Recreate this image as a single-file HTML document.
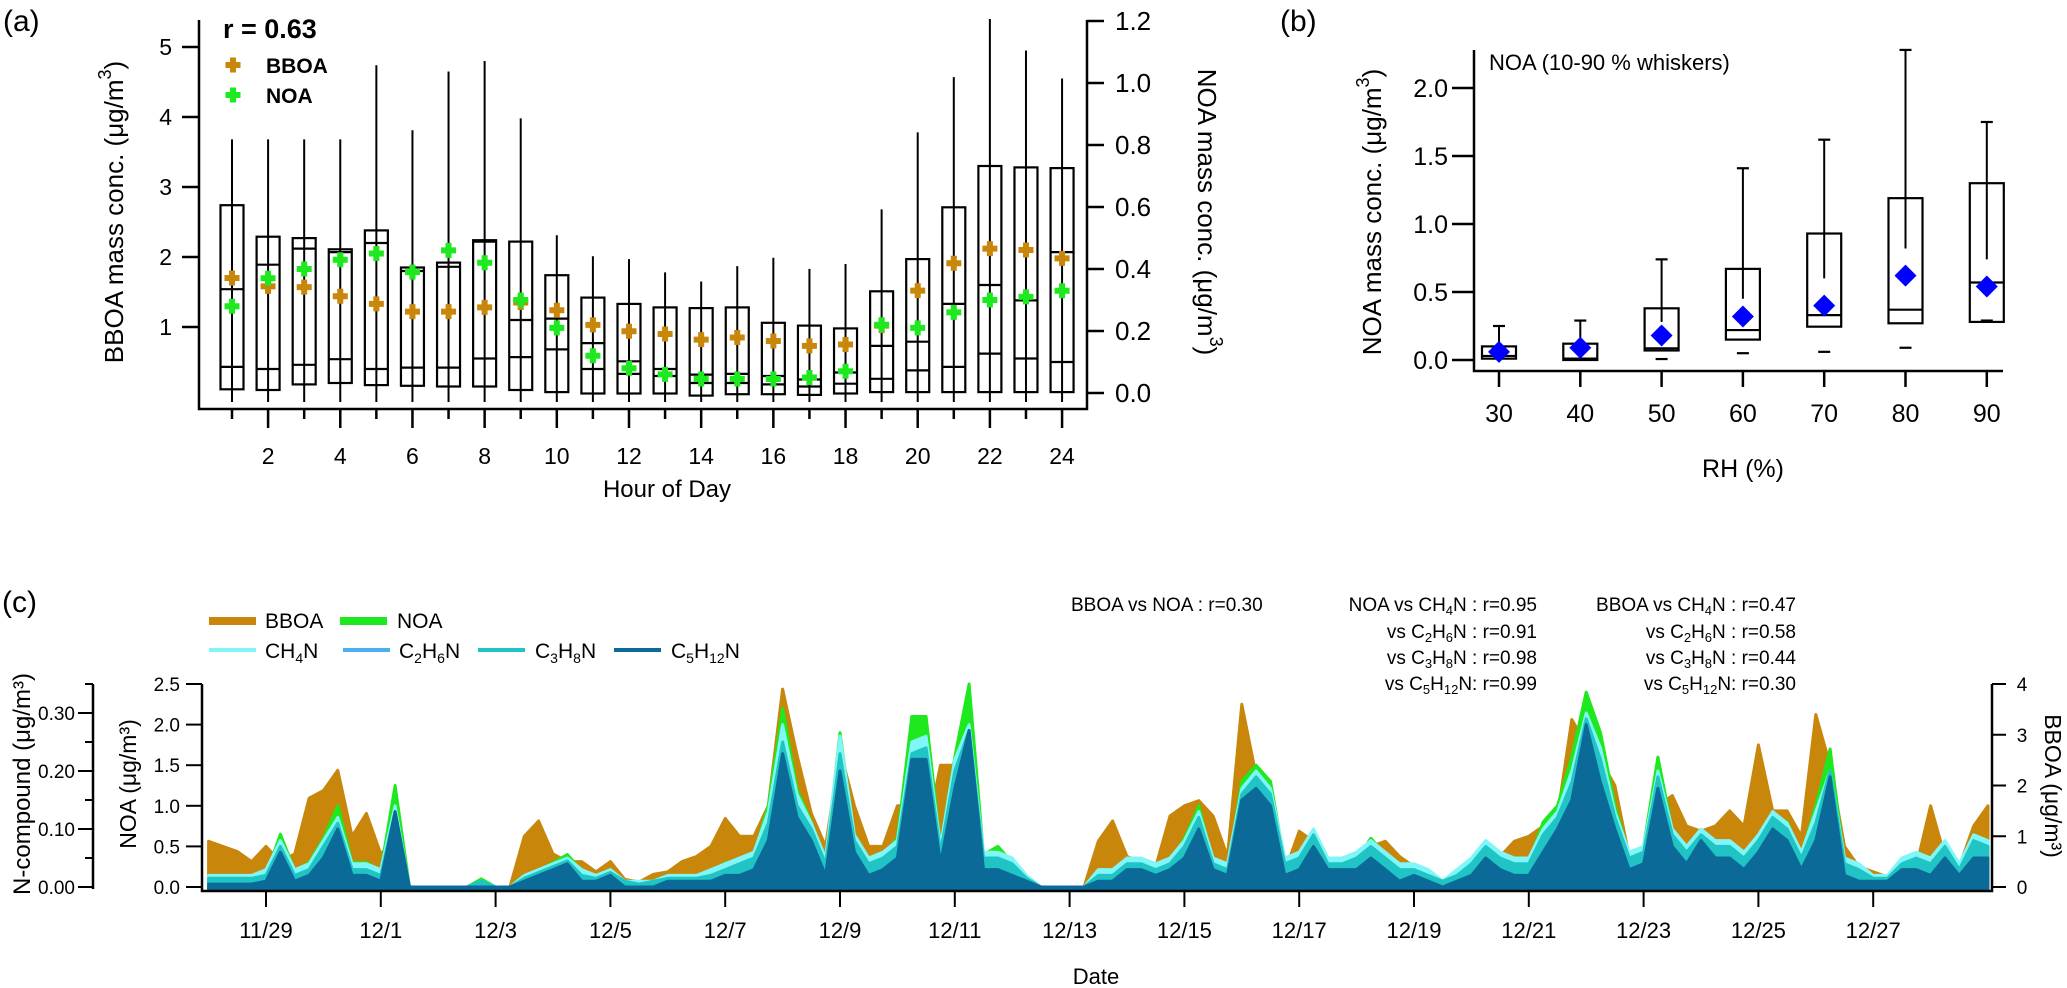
<!DOCTYPE html>
<html><head><meta charset="utf-8"><style>
html,body{margin:0;padding:0;background:#fff;}
svg{display:block;font-family:"Liberation Sans",Arial,sans-serif;}
.n{font-family:"Liberation Sans Narrow","Liberation Sans",sans-serif;}
</style></head><body>
<svg id="fig" width="2067" height="988" viewBox="0 0 2067 988" xmlns="http://www.w3.org/2000/svg">
<g id="pa"></g>
<g id="pb"></g>
<g id="pc"></g>
</svg>
<script>
// ---------- Panel (a) data ----------
const aHours=[1,2,3,4,5,6,7,8,9,10,11,12,13,14,15,16,17,18,19,20,21,22,23,24];
const aWhiskerTop=[3.68,3.68,3.68,3.68,4.74,3.81,4.65,4.80,3.98,2.31,2.01,1.97,1.78,1.65,1.87,1.99,1.83,1.90,2.68,3.78,4.57,5.40,4.95,4.55];
const aBoxTop=[2.74,2.29,2.27,2.11,2.38,1.85,1.92,2.24,2.22,1.74,1.42,1.33,1.28,1.27,1.28,1.06,1.02,0.98,1.51,1.97,2.71,3.30,3.28,3.27];
const aLine1=[1.54,1.89,2.12,2.07,2.20,1.80,1.86,2.22,1.10,1.12,0.77,0.51,0.40,0.32,0.33,0.30,0.25,0.35,0.73,0.79,1.33,1.60,1.38,2.07];
const aLine2=[0.43,0.40,0.46,0.54,0.40,0.42,0.42,0.55,0.57,0.68,0.40,0.33,0.30,0.20,0.20,0.18,0.15,0.19,0.26,0.38,0.43,0.62,0.55,0.50];
const aBoxBottom=[0.11,0.10,0.18,0.20,0.17,0.16,0.15,0.15,0.10,0.07,0.05,0.05,0.05,0.02,0.04,0.04,0.03,0.05,0.07,0.07,0.07,0.07,0.07,0.07];
const aBBOA=[1.70,1.58,1.57,1.44,1.33,1.22,1.22,1.28,1.35,1.24,1.03,0.94,0.90,0.82,0.85,0.80,0.73,0.75,1.02,1.52,1.91,2.12,2.10,1.98];
const aNOA=[0.28,0.37,0.40,0.43,0.45,0.39,0.46,0.42,0.30,0.21,0.12,0.08,0.06,0.045,0.045,0.045,0.05,0.07,0.22,0.21,0.26,0.30,0.31,0.33];
const aLeftTicks=[1,2,3,4,5];
const aRightTicks=[0.0,0.2,0.4,0.6,0.8,1.0,1.2];
// ---------- Panel (b) data ----------
const bRH=[30,40,50,60,70,80,90];
const bWhiskerTop=[0.25,0.29,0.74,1.41,1.62,2.28,1.75];
const bWhiskerStart=[0.10,0.12,0.28,0.45,0.60,0.82,0.74];
const bBoxTop=[0.10,0.12,0.38,0.67,0.93,1.19,1.30];
const bMedian=[0.03,0.01,0.086,0.22,0.33,0.37,0.57];
const bBoxBottom=[0.01,0.00,0.07,0.15,0.245,0.27,0.28];
const bLow=[null,null,0.007,0.05,0.06,0.09,0.29];
const bMean=[0.06,0.09,0.18,0.32,0.40,0.62,0.54];
const bTicks=[0.0,0.5,1.0,1.5,2.0];
// ---------- Panel (c) data (6-hourly from 11/28 00:00) ----------
const cDateLabels=["11/29","12/1","12/3","12/5","12/7","12/9","12/11","12/13","12/15","12/17","12/19","12/21","12/23","12/25","12/27"];
const cDateDays=[1,3,5,7,9,11,13,15,17,19,21,23,25,27,29];
const cBBOA=[0.9,0.8,0.7,0.5, 0.8,0.5,0.65,1.75, 1.9,2.3,1.0,1.45, 0.65,0.95,0,0, 0,0,0,0.1, 0,0,1.0,1.3, 0.65,0.5,0.5,0.3, 0.5,0.15,0.1,0.25, 0.3,0.5,0.6,0.8, 1.35,1.0,1.0,1.6, 3.9,2.6,1.45,0.8, 2.7,1.6,0.8,0.8, 1.6,1.6,1.0,2.4, 2.4,0.8,0.5,0.3, 0.5,0.2,0,0, 0,0,0.9,1.3, 0.6,0.5,0.4,1.4, 1.6,1.7,1.4,0.6, 3.6,2.2,1.2,0.3, 1.1,0.9,0.5,0.4, 0.5,0.8,0.9,0.6, 0.4,0.3,0.1,0.3, 0.5,0.8,0.6,0.9, 1.0,1.2,1.4,3.3, 2.8,2.5,2.0,0.6, 0.8,1.6,1.8,1.2, 1.1,1.2,1.5,1.2, 2.8,1.5,1.5,1.0, 3.4,2.4,0.8,0.4, 0.3,0.2,0.5,0.4, 1.6,0.6,0.4,1.2, 1.6];
const cNOA=[0.1,0.1,0.1,0.1, 0.15,0.65,0.2,0.3, 0.6,1.0,0.3,0.3, 0.2,1.25,0,0, 0,0,0,0.1, 0,0,0.1,0.2, 0.3,0.4,0.2,0.1, 0.2,0.05,0.02,0.05, 0.1,0.1,0.1,0.15, 0.3,0.3,0.4,1.0, 2.2,1.2,0.8,0.3, 1.9,0.6,0.3,0.4, 0.6,2.1,2.1,0.5, 1.6,2.5,0.4,0.5, 0.3,0.1,0,0, 0,0,0.15,0.15, 0.3,0.3,0.2,0.3, 0.6,1.0,0.3,0.2, 1.3,1.5,1.3,0.3, 0.4,0.7,0.3,0.3, 0.35,0.6,0.4,0.2, 0.2,0.15,0.05,0.15, 0.3,0.5,0.4,0.3, 0.3,0.8,1.0,1.6, 2.4,1.9,1.0,0.4, 0.5,1.6,0.7,0.5, 0.7,0.5,0.5,0.4, 0.6,0.9,0.8,0.4, 1.0,1.7,0.3,0.2, 0.1,0.1,0.3,0.4, 0.3,0.5,0.2,0.6, 0.5];
const cCH4N=[.02,.02,.02,.02, .03,.08,.03,.04, .08,.12,.04,.04, .03,.14,0,0, 0,0,0,.01, 0,0,.02,.03, .04,.05,.03,.02, .03,.01,.01,.01, .02,.02,.02,.03, .04,.05,.06,.13, .28,.16,.11,.05, .26,.09,.05,.06, .08,.25,.26,.07, .22,.28,.06,.06, .05,.02,0,0, 0,0,.03,.03, .05,.05,.04,.05, .08,.13,.05,.04, .17,.2,.17,.05, .06,.1,.05,.05, .06,.08,.06,.04, .04,.03,.01,.03, .05,.08,.06,.05, .05,.1,.13,.2, .3,.24,.13,.06, .07,.2,.1,.07, .1,.08,.08,.06, .09,.13,.11,.06, .13,.2,.05,.04, .02,.02,.05,.06, .05,.08,.04,.09, .08];
const cC2H6N=[.01,.01,.01,.01, .015,.06,.015,.025, .06,.09,.025,.025, .015,.12,0,0, 0,0,0,.005, 0,0,.01,.02, .03,.04,.015,.01, .02,.005,0,.005, .01,.01,.01,.015, .025,.03,.04,.09, .22,.12,.08,.03, .2,.07,.03,.04, .06,.2,.2,.05, .16,.24,.04,.04, .03,.01,0,0, 0,0,.015,.015, .03,.03,.02,.03, .06,.1,.03,.02, .14,.16,.13,.03, .04,.08,.03,.03, .04,.06,.04,.02, .02,.015,.005,.015, .03,.06,.04,.03, .03,.07,.1,.15, .25,.19,.1,.04, .05,.16,.07,.05, .08,.06,.06,.04, .07,.1,.08,.04, .09,.17,.03,.02, .01,.01,.03,.04, .03,.06,.02,.06, .06];
const cC3H8N=[.015,.015,.015,.015, .02,.07,.02,.03, .07,.11,.03,.03, .02,.13,0,0, 0,0,0,.01, 0,0,.015,.025, .035,.045,.02,.015, .025,.01,.005,.01, .015,.015,.015,.02, .03,.04,.05,.11, .25,.14,.1,.04, .23,.08,.04,.05, .07,.23,.24,.06, .2,.27,.05,.05, .04,.015,0,0, 0,0,.02,.02, .04,.04,.03,.04, .07,.12,.04,.03, .16,.19,.16,.04, .05,.09,.04,.04, .05,.07,.05,.03, .03,.02,.01,.02, .04,.07,.05,.04, .04,.09,.12,.18, .29,.22,.12,.05, .06,.19,.09,.06, .09,.07,.07,.05, .08,.12,.1,.05, .11,.2,.04,.03, .015,.015,.04,.05, .04,.07,.03,.08, .07];
const cC5H12N=[.005,.005,.005,.005, .01,.06,.01,.02, .05,.1,.02,.02, .01,.13,0,0, 0,0,0,0, 0,0,.01,.02, .03,.04,.01,.01, .02,0,0,0, .01,.01,.01,.01, .02,.02,.03,.08, .23,.12,.08,.02, .2,.06,.02,.03, .05,.22,.22,.04, .17,.27,.03,.03, .02,.01,0,0, 0,0,.01,.01, .03,.03,.02,.03, .05,.1,.03,.02, .15,.17,.14,.02, .03,.07,.03,.03, .03,.05,.03,.01, .02,.01,0,.01, .02,.05,.03,.02, .02,.06,.1,.15, .28,.18,.1,.03, .04,.17,.07,.04, .08,.05,.05,.03, .06,.1,.08,.03, .08,.19,.02,.01, .01,.01,.03,.03, .02,.05,.02,.05, .05];
const cNTicks=[0,0.10,0.20,0.30];
const cNOATicks=[0,0.5,1.0,1.5,2.0,2.5];
const cBBOATicks=[0,1,2,3,4];

const NS="http://www.w3.org/2000/svg";
function mk(parent,tag,attrs,text){const e=document.createElementNS(NS,tag);for(const k in attrs)e.setAttribute(k,attrs[k]);if(text!==undefined)e.textContent=text;parent.appendChild(e);return e;}

// ===== Panel A =====
const pa=document.getElementById('pa');
const ax=h=>232+(h-1)*36.09, ayB=v=>397-70*v, ayN=v=>393-310*v;
let t;
t=mk(pa,'text',{x:3,y:31,'font-size':30},'(a)');


mk(pa,'path',{d:'M199 20 V409 H1087 V20',fill:'none',stroke:'#000','stroke-width':2.5});
aLeftTicks.forEach(v=>{mk(pa,'line',{x1:182,x2:199,y1:ayB(v),y2:ayB(v),stroke:'#000','stroke-width':2.5});
 t=mk(pa,'text',{x:172,y:ayB(v)+8,'font-size':23,'text-anchor':'end'},String(v));
 
 });
aRightTicks.forEach(v=>{mk(pa,'line',{x1:1087,x2:1104,y1:ayN(v),y2:ayN(v),stroke:'#000','stroke-width':2.5});
 t=mk(pa,'text',{x:1115,y:ayN(v)+9,'font-size':26},v.toFixed(1));
 
 });
aHours.forEach(h=>{const maj=h%2===0;mk(pa,'line',{x1:ax(h),x2:ax(h),y1:409,y2:maj?428:419,stroke:'#000','stroke-width':2.5});
 if(maj){t=mk(pa,'text',{x:ax(h),y:464,'font-size':23,'text-anchor':'middle'},String(h));
 
 }});
t=mk(pa,'text',{x:667,y:497,'font-size':24,'text-anchor':'middle'},'Hour of Day');


t=mk(pa,'text',{x:0,y:0,'font-size':26,'text-anchor':'middle',transform:'translate(123,212) rotate(-90)'});
t.innerHTML='BBOA mass conc. (μg/m<tspan dy="-12" font-size="18">3</tspan><tspan dy="12">)</tspan>';


t=mk(pa,'text',{x:0,y:0,'font-size':26,'text-anchor':'middle',transform:'translate(1198,212) rotate(90)'});
t.innerHTML='NOA mass conc. (μg/m<tspan dy="-12" font-size="18">3</tspan><tspan dy="12">)</tspan>';


function cross(g,cx,cy,col){const s=7.5,w=3;return mk(g,'path',{d:`M${cx-w} ${cy-s}h${2*w}v${s-w}h${s-w}v${2*w}h${-(s-w)}v${s-w}h${-2*w}v${-(s-w)}h${-(s-w)}v${-2*w}h${s-w}z`,fill:col});}
aHours.forEach((h,i)=>{const g=mk(pa,'g',{});
 
 
 const x=ax(h),w=23;
 mk(g,'line',{x1:x,x2:x,y1:ayB(aWhiskerTop[i]),y2:402,stroke:'#000','stroke-width':2});
 mk(g,'rect',{x:x-w/2,y:ayB(aBoxTop[i]),width:w,height:ayB(aBoxBottom[i])-ayB(aBoxTop[i]),fill:'none',stroke:'#000','stroke-width':2.2});
 [aLine1[i],aLine2[i]].forEach(v=>mk(g,'line',{x1:x-w/2,x2:x+w/2,y1:ayB(v),y2:ayB(v),stroke:'#000','stroke-width':2.2}));
});
aHours.forEach((h,i)=>{let c=cross(pa,ax(h),ayB(aBBOA[i]),'#C8860A');
 
 
 c=cross(pa,ax(h),ayN(aNOA[i]),'#1EE81E');
 
 });
const lg=mk(pa,'g',{});


mk(lg,'rect',{x:207,y:12,width:135,height:127,fill:'#fff'});
mk(lg,'text',{x:223,y:38,'font-size':27,'font-weight':'bold'},'r = 0.63');
cross(lg,233,65,'#C8860A');mk(lg,'text',{x:266,y:73,'font-size':21,'font-weight':'bold'},'BBOA');
cross(lg,233,95,'#1EE81E');mk(lg,'text',{x:266,y:103,'font-size':21,'font-weight':'bold'},'NOA');

// ===== Panel B =====
const pb=document.getElementById('pb');
const bx=r=>1499+(r-30)*8.13, by=v=>360-136*v;
t=mk(pb,'text',{x:1280,y:31,'font-size':30},'(b)');


mk(pb,'path',{d:'M1474 50 V371 H2003',fill:'none',stroke:'#000','stroke-width':2.5});
bTicks.forEach(v=>{mk(pb,'line',{x1:1452,x2:1474,y1:by(v),y2:by(v),stroke:'#000','stroke-width':2.5});
 t=mk(pb,'text',{x:1448,y:by(v)+9,'font-size':25,'text-anchor':'end'},v.toFixed(1));
 
 });
bRH.forEach(r=>{mk(pb,'line',{x1:bx(r),x2:bx(r),y1:371,y2:387,stroke:'#000','stroke-width':2.5});
 t=mk(pb,'text',{x:bx(r),y:422,'font-size':25,'text-anchor':'middle'},String(r));
 
 });
t=mk(pb,'text',{x:1743,y:477,'font-size':25,'text-anchor':'middle'},'RH (%)');


t=mk(pb,'text',{x:0,y:0,'font-size':26,'text-anchor':'middle',transform:'translate(1381,212) rotate(-90)'});
t.innerHTML='NOA mass conc. (μg/m<tspan dy="-12" font-size="18">3</tspan><tspan dy="12">)</tspan>';


t=mk(pb,'text',{x:1489,y:70,'font-size':22},'NOA (10-90 % whiskers)');


bRH.forEach((r,i)=>{const g=mk(pb,'g',{});
 
 
 const x=bx(r),w=34;
 mk(g,'line',{x1:x,x2:x,y1:by(bWhiskerTop[i]),y2:by(bWhiskerStart[i]),stroke:'#000','stroke-width':2});
 mk(g,'line',{x1:x-6,x2:x+6,y1:by(bWhiskerTop[i]),y2:by(bWhiskerTop[i]),stroke:'#000','stroke-width':2.2});
 mk(g,'rect',{x:x-w/2,y:by(bBoxTop[i]),width:w,height:Math.max(2,by(bBoxBottom[i])-by(bBoxTop[i])),fill:'none',stroke:'#000','stroke-width':2.2});
 mk(g,'line',{x1:x-w/2,x2:x+w/2,y1:by(bMedian[i]),y2:by(bMedian[i]),stroke:'#000','stroke-width':2.2});
 if(bLow[i]!==null)mk(g,'line',{x1:x-6,x2:x+6,y1:by(bLow[i]),y2:by(bLow[i]),stroke:'#000','stroke-width':2.2});
 const m=by(bMean[i]);
 const d=mk(g,'path',{d:`M${x} ${m-11}L${x+11} ${m}L${x} ${m+11}L${x-11} ${m}Z`,fill:'#0000FF'});
 
 
});

// ===== Panel C =====
const pc=document.getElementById('pc');
const cx=i=>208.6+57.4*(i*0.25), cxd=d=>208.6+57.4*(d-1)+57.4*0; // day index helper
const dayX=d=>208.6+57.4*d;
const yNOA=v=>887-81.2*v, yBB=v=>887-50.75*v, yNC=v=>887-580*v;
t=mk(pc,'text',{x:2,y:612,'font-size':30},'(c)');


const plotClip=mk(pc,'clipPath',{id:'cclip'});mk(plotClip,'rect',{x:202,y:650,width:1790,height:241});
function area(arr,yf,col,name){const g=mk(pc,'g',{'clip-path':'url(#cclip)'});
 let d=`M${cx(0)} 889`;arr.forEach((v,i)=>{d+=`L${cx(i).toFixed(1)} ${yf(v).toFixed(1)}`;});
 d+=`L${cx(arr.length-1)} 889Z`;
 const p=mk(g,'path',{d:d,fill:col,stroke:col,'stroke-width':3,'stroke-linejoin':'round'});
 
 }
area(cBBOA,yBB,'#C8860A','bboa-series');
area(cNOA,yNOA,'#1EE81E','noa-series');
area(cCH4N,yNC,'#80F6F8','ch4n-series');
area(cC2H6N,yNC,'#4AB0F0','c2h6n-series');
area(cC3H8N,yNC,'#20C4C4','c3h8n-series');
area(cC5H12N,yNC,'#0B6A98','c5h12n-series');
mk(pc,'path',{d:'M202 684 V891 H1992 V684',fill:'none',stroke:'#000','stroke-width':2.5});
cDateDays.forEach((d,i)=>{const x=dayX(d);mk(pc,'line',{x1:x,x2:x,y1:891,y2:907,stroke:'#000','stroke-width':2});
 t=mk(pc,'text',{x:x,y:938,'font-size':22,'text-anchor':'middle','class':'n'},cDateLabels[i]);
 
 });
t=mk(pc,'text',{x:1096,y:984,'font-size':22,'text-anchor':'middle','class':'n'},'Date');


cNOATicks.forEach(v=>{mk(pc,'line',{x1:186,x2:202,y1:yNOA(v),y2:yNOA(v),stroke:'#000','stroke-width':2});
 t=mk(pc,'text',{x:180,y:yNOA(v)+7,'font-size':19,'text-anchor':'end','class':'n'},v.toFixed(1));
 
 });
cBBOATicks.forEach(v=>{mk(pc,'line',{x1:1992,x2:2006,y1:yBB(v),y2:yBB(v),stroke:'#000','stroke-width':2});
 t=mk(pc,'text',{x:2022,y:yBB(v)+7,'font-size':19,'text-anchor':'middle','class':'n'},String(v));
 
 });
mk(pc,'line',{x1:93,x2:93,y1:684,y2:889,stroke:'#000','stroke-width':2.5});
[0,0.05,0.10,0.15,0.20,0.25,0.30,0.35].forEach(v=>{const maj=Math.abs(v*10-Math.round(v*10))<1e-6;
 mk(pc,'line',{x1:maj?78:85,x2:93,y1:yNC(v),y2:yNC(v),stroke:'#000','stroke-width':2});});
cNTicks.forEach(v=>{t=mk(pc,'text',{x:75,y:yNC(v)+7,'font-size':19,'text-anchor':'end','class':'n'},v.toFixed(2));
 
 });
t=mk(pc,'text',{x:0,y:0,'font-size':24,'text-anchor':'middle',transform:'translate(30,784) rotate(-90)'},'N-compound (μg/m³)');


t=mk(pc,'text',{x:0,y:0,'font-size':23,'text-anchor':'middle',transform:'translate(136,784) rotate(-90)'},'NOA (μg/m³)');


t=mk(pc,'text',{x:0,y:0,'font-size':23,'text-anchor':'middle',transform:'translate(2045,786) rotate(90)'},'BBOA (μg/m³)');


// legend
const cl=mk(pc,'g',{'class':'n'});


function sw(x,y,col,w){mk(cl,'line',{x1:x,x2:x+47,y1:y,y2:y,stroke:col,'stroke-width':w});}
sw(209,621,'#C8860A',8);mk(cl,'text',{x:265,y:628,'font-size':21},'BBOA');
sw(340,621,'#1EE81E',8);mk(cl,'text',{x:397,y:628,'font-size':21},'NOA');
sw(209,650,'#80F6F8',4);sw(343,650,'#4AB0F0',4);sw(478,650,'#20C4C4',4);sw(614,650,'#0B6A98',4);
const sub=(a,b,c,d)=>`${a}<tspan dy="5" font-size="14">${b}</tspan><tspan dy="-5">${c}</tspan>`+(d?d:'');
let e=mk(cl,'text',{x:265,y:658,'font-size':21});e.innerHTML='CH<tspan dy="5" font-size="14">4</tspan><tspan dy="-5">N</tspan>';
e=mk(cl,'text',{x:399,y:658,'font-size':21});e.innerHTML='C<tspan dy="5" font-size="14">2</tspan><tspan dy="-5">H</tspan><tspan dy="5" font-size="14">6</tspan><tspan dy="-5">N</tspan>';
e=mk(cl,'text',{x:535,y:658,'font-size':21});e.innerHTML='C<tspan dy="5" font-size="14">3</tspan><tspan dy="-5">H</tspan><tspan dy="5" font-size="14">8</tspan><tspan dy="-5">N</tspan>';
e=mk(cl,'text',{x:671,y:658,'font-size':21});e.innerHTML='C<tspan dy="5" font-size="14">5</tspan><tspan dy="-5">H</tspan><tspan dy="5" font-size="14">12</tspan><tspan dy="-5">N</tspan>';
// annotations
const an=mk(pc,'g',{'class':'n','font-size':19});


mk(an,'text',{x:1071,y:611},'BBOA vs NOA : r=0.30');
const S=(b)=>`<tspan dy="4" font-size="13">${b}</tspan><tspan dy="-4">`;
const rows=[
 [1537,611,'NOA vs CH'+S('4')+'N : r=0.95</tspan>'],
 [1537,638,'vs C'+S('2')+'H</tspan>'+S('6')+'N : r=0.91</tspan>'],
 [1537,664,'vs C'+S('3')+'H</tspan>'+S('8')+'N : r=0.98</tspan>'],
 [1537,690,'vs C'+S('5')+'H</tspan>'+S('12')+'N: r=0.99</tspan>'],
 [1796,611,'BBOA vs CH'+S('4')+'N : r=0.47</tspan>'],
 [1796,638,'vs C'+S('2')+'H</tspan>'+S('6')+'N : r=0.58</tspan>'],
 [1796,664,'vs C'+S('3')+'H</tspan>'+S('8')+'N : r=0.44</tspan>'],
 [1796,690,'vs C'+S('5')+'H</tspan>'+S('12')+'N: r=0.30</tspan>']];
rows.forEach(r=>{const tt=mk(an,'text',{x:r[0],y:r[1],'text-anchor':'end'});tt.innerHTML=r[2];});
</script>
</body></html>
